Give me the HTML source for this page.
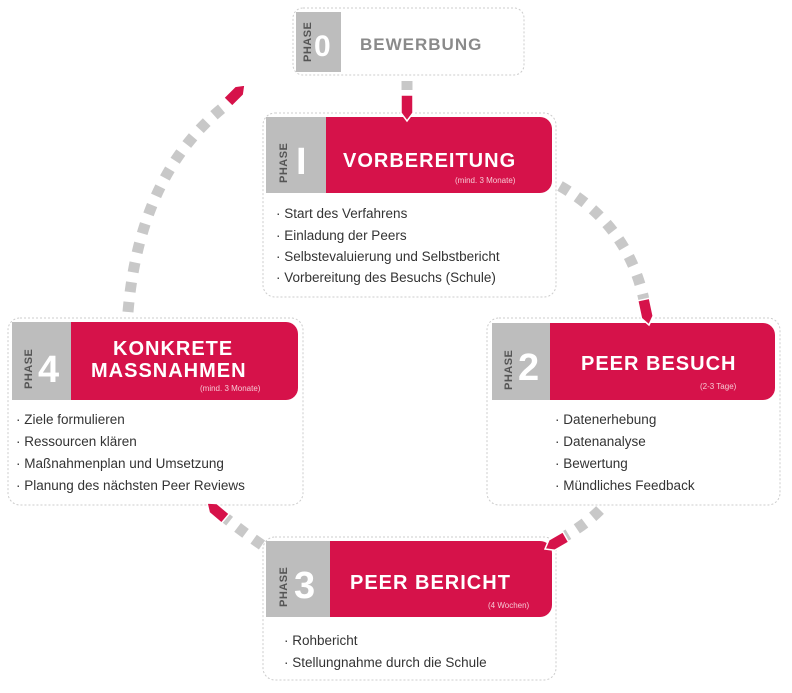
<!DOCTYPE html>
<html><head><meta charset="utf-8"><style>
html,body{margin:0;padding:0;background:#fff;}
svg{display:block;font-family:"Liberation Sans",sans-serif;}
.b{font-size:13.5px;fill:#333;}
.t{font-size:20px;font-weight:bold;fill:#fff;letter-spacing:1px;}
.s{font-size:8px;fill:#f6c9d4;}
.p{font-size:11px;font-weight:bold;fill:#555;letter-spacing:0.5px;}
.n{font-size:38px;font-weight:bold;fill:#fff;}
</style></head><body>
<svg width="792" height="693" viewBox="0 0 792 693" xmlns="http://www.w3.org/2000/svg">
<!-- dashed arcs -->
<g fill="none" stroke="#c8c8c8" stroke-width="11" stroke-dasharray="10 10">
<path d="M560 186 Q628 225 644 300"/>
<path d="M600 510 Q585 525 562 538"/>
<path d="M262 545 Q240 530 222 515"/>
<path d="M128 312 Q140 170 230 102"/>
<path d="M407 81 L407 90"/>
</g>

<!-- Phase 0 -->
<rect x="293" y="8" width="231" height="67" rx="10" fill="#fff" stroke="#ccc" stroke-dasharray="2 2"/>
<rect x="296" y="12" width="45" height="60" fill="#bdbdbd"/>
<text class="p" transform="translate(311,62) rotate(-90)">PHASE</text>
<text class="n" x="314" y="56" style="font-size:30px">0</text>
<text x="360" y="50" style="font-size:17px;font-weight:bold;fill:#8a8a8a;letter-spacing:1px">BEWERBUNG</text>

<!-- Phase 1 -->
<rect x="263" y="113" width="293" height="184" rx="12" fill="#fff" stroke="#ccc" stroke-dasharray="2 2"/>
<rect x="266" y="117" width="60" height="76" fill="#bdbdbd"/>
<path d="M326 117 H540 a12 12 0 0 1 12 12 V181 a12 12 0 0 1 -12 12 H326 Z" fill="#d6124a"/>
<text class="p" transform="translate(287,183) rotate(-90)">PHASE</text>
<text class="n" x="296" y="174">I</text>
<text class="t" x="343" y="167">VORBEREITUNG</text>
<text class="s" x="455" y="183">(mind. 3 Monate)</text>
<text class="b" x="276" y="218">· Start des Verfahrens</text>
<text class="b" x="276" y="240">· Einladung der Peers</text>
<text class="b" x="276" y="261">· Selbstevaluierung und Selbstbericht</text>
<text class="b" x="276" y="282">· Vorbereitung des Besuchs (Schule)</text>

<!-- Phase 2 -->
<rect x="487" y="318" width="293" height="187" rx="12" fill="#fff" stroke="#ccc" stroke-dasharray="2 2"/>
<rect x="492" y="323" width="58" height="77" fill="#bdbdbd"/>
<path d="M550 323 H763 a12 12 0 0 1 12 12 V388 a12 12 0 0 1 -12 12 H550 Z" fill="#d6124a"/>
<text class="p" transform="translate(512,390) rotate(-90)">PHASE</text>
<text class="n" x="518" y="380">2</text>
<text class="t" x="581" y="370">PEER BESUCH</text>
<text class="s" x="700" y="389">(2-3 Tage)</text>
<text class="b" x="555" y="424">· Datenerhebung</text>
<text class="b" x="555" y="446">· Datenanalyse</text>
<text class="b" x="555" y="468">· Bewertung</text>
<text class="b" x="555" y="490">· Mündliches Feedback</text>

<!-- Phase 3 -->
<rect x="263" y="537" width="293" height="143" rx="12" fill="#fff" stroke="#ccc" stroke-dasharray="2 2"/>
<rect x="266" y="541" width="64" height="76" fill="#bdbdbd"/>
<path d="M330 541 H540 a12 12 0 0 1 12 12 V605 a12 12 0 0 1 -12 12 H330 Z" fill="#d6124a"/>
<text class="p" transform="translate(287,607) rotate(-90)">PHASE</text>
<text class="n" x="294" y="598">3</text>
<text class="t" x="350" y="589">PEER BERICHT</text>
<text class="s" x="488" y="608">(4 Wochen)</text>
<text class="b" x="284" y="645">· Rohbericht</text>
<text class="b" x="284" y="667">· Stellungnahme durch die Schule</text>

<!-- Phase 4 -->
<rect x="8" y="318" width="295" height="187" rx="12" fill="#fff" stroke="#ccc" stroke-dasharray="2 2"/>
<rect x="12" y="322" width="59" height="78" fill="#bdbdbd"/>
<path d="M71 322 H286 a12 12 0 0 1 12 12 V388 a12 12 0 0 1 -12 12 H71 Z" fill="#d6124a"/>
<text class="p" transform="translate(32,389) rotate(-90)">PHASE</text>
<text class="n" x="38" y="382">4</text>
<text class="t" x="113" y="355">KONKRETE</text>
<text class="t" x="91" y="377">MASSNAHMEN</text>
<text class="s" x="200" y="391">(mind. 3 Monate)</text>
<text class="b" x="16" y="424">· Ziele formulieren</text>
<text class="b" x="16" y="446">· Ressourcen klären</text>
<text class="b" x="16" y="468">· Maßnahmenplan und Umsetzung</text>
<text class="b" x="16" y="490">· Planung des nächsten Peer Reviews</text>

<!-- red arrows (on top) -->
<g fill="#d6124a" stroke="#fff" stroke-width="1.5">
<polygon transform="translate(407,121)" points="-6,-26 6,-26 6,-8 0,0 -6,-8"/>
<polygon transform="translate(649,325) rotate(-12)" points="-6,-26 6,-26 6,-8 0,0 -6,-8"/>
<polygon transform="translate(545,549) rotate(60)" points="-6,-24 6,-24 6,-8 0,0 -6,-8"/>
<polygon transform="translate(207,503) rotate(130)" points="-6,-24 6,-24 6,-8 0,0 -6,-8"/>
<polygon transform="translate(245,85) rotate(225)" points="-6,-24 6,-24 6,-8 0,0 -6,-8"/>
</g>
</svg>
</body></html>
